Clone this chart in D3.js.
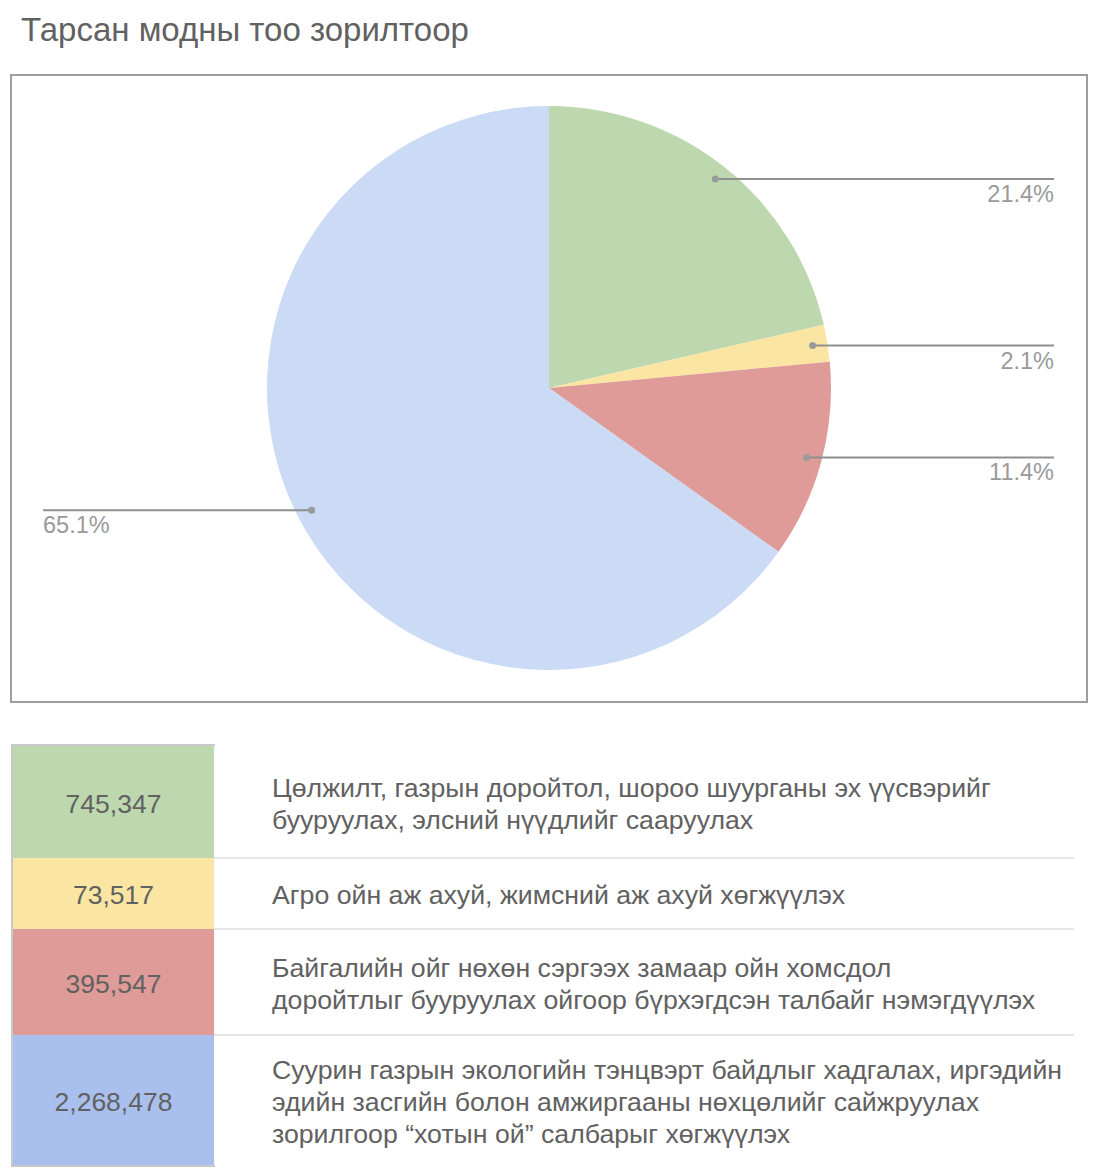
<!DOCTYPE html>
<html>
<head>
<meta charset="utf-8">
<script src="https://cdn.jsdelivr.net/npm/d3@7"></script>
<style>
  html, body { margin: 0; padding: 0; background: #fff; }
  svg { display: block; font-family: "Liberation Sans", Arial, sans-serif; }
</style>
</head>
<body>
<svg id="chart" width="1100" height="1174"></svg>
<script>
// ---- Data ----
const title = "Тарсан модны тоо зорилтоор";
const values = [745347, 73517, 395547, 2268478];
const categoryLines = [
  ["Цөлжилт, газрын доройтол, шороо шуурганы эх үүсвэрийг", "бууруулах, элсний нүүдлийг сааруулах"],
  ["Агро ойн аж ахуй, жимсний аж ахуй хөгжүүлэх"],
  ["Байгалийн ойг нөхөн сэргээх замаар ойн хомсдол", "доройтлыг бууруулах ойгоор бүрхэгдсэн талбайг нэмэгдүүлэх"],
  ["Суурин газрын экологийн тэнцвэрт байдлыг хадгалах, иргэдийн", "эдийн засгийн болон амжиргааны нөхцөлийг сайжруулах", "зорилгоор “хотын ой” салбарыг хөгжүүлэх"]
];
const pieColors = ["#bdd7ae", "#fbe5a3", "#df9b98", "#cbdaf5"];
const tableColors = ["#bdd7ae", "#fbe5a3", "#df9b98", "#a9c0ee"];
const rowHeights = [112, 71, 106, 131];

// ---- Layout ----
const svg = d3.select("#chart");
const textGray = "#616161";
const labelGray = "#9a9a9a";

svg.append("text")
  .attr("x", 21).attr("y", 41)
  .attr("font-size", 33)
  .attr("fill", textGray)
  .text(title);

svg.append("rect")
  .attr("x", 11).attr("y", 75)
  .attr("width", 1076).attr("height", 627)
  .attr("fill", "none")
  .attr("stroke", "#9e9e9e")
  .attr("stroke-width", 2);

const cx = 549, cy = 388, R = 282;
const pie = d3.pie().sort(null).value(d => d).startAngle(0).endAngle(2 * Math.PI);
const arcs = pie(values);
const arc = d3.arc().innerRadius(0).outerRadius(R);
const total = d3.sum(values);
const pct = d3.format(".1%");

const g = svg.append("g").attr("transform", `translate(${cx},${cy})`);
g.selectAll("path.slice")
  .data(arcs)
  .join("path")
  .attr("class", "slice")
  .attr("d", arc)
  .attr("fill", (d, i) => pieColors[i]);

// leader lines and labels
const dotR = 267;
const rightX = 1054 - cx, leftX = 43 - cx;
arcs.forEach((d, i) => {
  const a = (d.startAngle + d.endAngle) / 2;
  const px = Math.sin(a) * dotR, py = -Math.cos(a) * dotR;
  const right = px >= 0;
  const ex = right ? rightX : leftX;
  g.append("line")
    .attr("x1", px).attr("y1", py).attr("x2", ex).attr("y2", py)
    .attr("stroke", "#8f8f8f").attr("stroke-width", 2);
  g.append("circle")
    .attr("cx", px).attr("cy", py).attr("r", 3.5)
    .attr("fill", "#9a9a9a");
  g.append("text")
    .attr("x", ex).attr("y", py + 23)
    .attr("text-anchor", right ? "end" : "start")
    .attr("font-size", 23.5)
    .attr("fill", labelGray)
    .text(pct(d.data / total));
});

// ---- Table ----
const tableTop = 746;
const cellX = 13, cellW = 201, textX = 272, lineEnd = 1074;
const fs = 26.7;
const numFmt = d3.format(",");
let y = tableTop;
const tg = svg.append("g");
values.forEach((v, i) => {
  const h = rowHeights[i];
  tg.append("rect")
    .attr("x", cellX).attr("y", y).attr("width", cellW).attr("height", h)
    .attr("fill", tableColors[i]);
  const mid = y + h / 2 + 1;
  const baseOff = fs * 0.358;
  tg.append("text")
    .attr("x", cellX + cellW / 2).attr("y", mid + baseOff)
    .attr("text-anchor", "middle")
    .attr("font-size", 26.5)
    .attr("fill", textGray)
    .text(numFmt(v));
  const lines = categoryLines[i];
  const lh = 32;
  lines.forEach((ln, j) => {
    tg.append("text")
      .attr("x", textX)
      .attr("y", mid + baseOff + (j - (lines.length - 1) / 2) * lh)
      .attr("font-size", fs)
      .attr("fill", textGray)
      .text(ln);
  });
  y += h;
  if (i < values.length - 1) {
    tg.append("line")
      .attr("x1", cellX + cellW).attr("x2", lineEnd)
      .attr("y1", y).attr("y2", y)
      .attr("stroke", "#e6e6e6").attr("stroke-width", 2);
  }
});
// borders of colored column
tg.append("line").attr("x1", 12).attr("x2", 12).attr("y1", tableTop - 1).attr("y2", y + 1)
  .attr("stroke", "#c8c8c8").attr("stroke-width", 2);
tg.append("line").attr("x1", 11).attr("x2", cellX + cellW + 1).attr("y1", tableTop - 1).attr("y2", tableTop - 1)
  .attr("stroke", "#c8c8c8").attr("stroke-width", 2);
tg.append("line").attr("x1", 11).attr("x2", cellX + cellW + 1).attr("y1", y).attr("y2", y)
  .attr("stroke", "#c8c8c8").attr("stroke-width", 2);
</script>
</body>
</html>
